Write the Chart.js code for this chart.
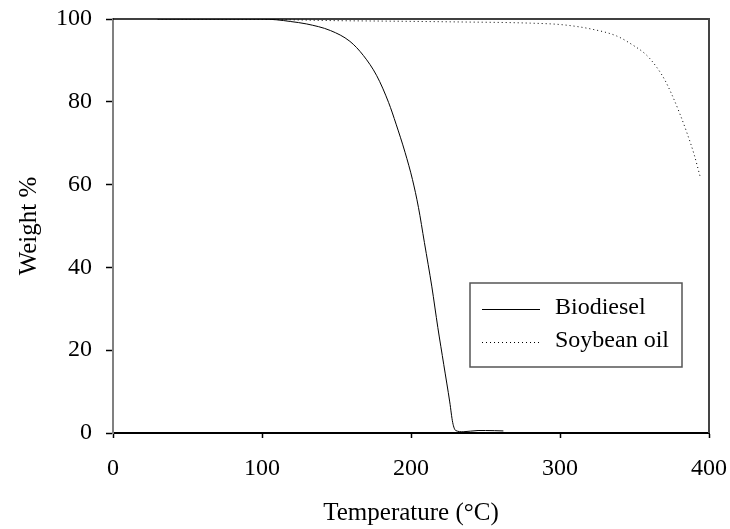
<!DOCTYPE html>
<html>
<head>
<meta charset="utf-8">
<script src="https://cdn.jsdelivr.net/npm/chart.js"></script>
<style>
  body { margin: 0; background: #fff; }
  #wrap { width: 730px; height: 529px; position: relative; }
</style>
</head>
<body>
<div id="wrap"><canvas id="tga"></canvas></div>
<script>
// TGA curves: temperature (°C) vs remaining weight (%)
const biodieselTemp = [30, 100, 110, 119, 130, 146, 159, 168, 177, 185, 190, 196, 201, 205, 209, 214, 218, 222, 226, 228, 230, 235, 245, 250, 262];
const biodieselWeight = [100, 100, 99.8, 99.4, 98.8, 97.2, 94.6, 91.2, 86.3, 79.8, 74.6, 67.8, 61.2, 54.5, 46, 35.3, 25.5, 16.5, 7.5, 2.5, 0.6, 0.3, 0.6, 0.6, 0.5];

const soyTemp = [30, 100, 150, 180, 230, 280, 302, 322, 338, 348, 358, 365, 370, 375, 380, 385, 390, 394];
const soyWeight = [100, 99.9, 99.6, 99.5, 99.3, 99, 98.6, 97.5, 95.9, 93.9, 91.3, 88.3, 85.5, 81.8, 77.5, 72.7, 67.3, 62];

const xTicks = [0, 100, 200, 300, 400];
const yTicks = [0, 20, 40, 60, 80, 100];

const serif = "'Liberation Serif', 'Times New Roman', serif";

function toPoints(xs, ys) {
  return xs.map((x, i) => ({ x: x, y: ys[i] }));
}

// top and right edges of the plot box
const frame = {
  id: "frame",
  afterDraw(chart) {
    const { ctx, chartArea: a } = chart;
    ctx.save();
    ctx.strokeStyle = "#000";
    ctx.lineWidth = 1.5;
    ctx.beginPath();
    ctx.moveTo(a.left, a.top);
    ctx.lineTo(a.right, a.top);
    ctx.stroke();
    ctx.strokeStyle = "#444";
    ctx.lineWidth = 2;
    ctx.beginPath();
    ctx.moveTo(a.right, a.top - 1);
    ctx.lineTo(a.right, a.bottom);
    ctx.stroke();
    ctx.restore();
  }
};

// boxed legend inside the plot
const boxLegend = {
  id: "boxLegend",
  afterDraw(chart) {
    const { ctx } = chart;
    const left = 470, top = 283, w = 212, h = 84;
    ctx.save();
    ctx.strokeStyle = "#555";
    ctx.lineWidth = 1.5;
    ctx.strokeRect(left, top, w, h);
    ctx.font = "24px " + serif;
    ctx.fillStyle = "#000";
    ctx.textBaseline = "middle";
    chart.data.datasets.forEach((ds, i) => {
      const y = 309 + i * 33;
      ctx.strokeStyle = ds.borderColor;
      ctx.lineWidth = ds.borderWidth;
      ctx.setLineDash(ds.borderDash || []);
      ctx.beginPath();
      ctx.moveTo(482, y + 0.5);
      ctx.lineTo(540, y + 0.5);
      ctx.stroke();
      ctx.setLineDash([]);
      ctx.fillText(ds.label, 555, y - 1);
    });
    ctx.restore();
  }
};

new Chart(document.getElementById("tga"), {
  type: "line",
  data: {
    datasets: [
      {
        label: "Biodiesel",
        data: toPoints(biodieselTemp, biodieselWeight),
        borderColor: "#000",
        borderWidth: 1,
        pointRadius: 0,
        cubicInterpolationMode: "monotone"
      },
      {
        label: "Soybean oil",
        data: toPoints(soyTemp, soyWeight),
        borderColor: "#000",
        borderWidth: 1,
        borderDash: [1, 3],
        pointRadius: 0,
        cubicInterpolationMode: "monotone"
      }
    ]
  },
  options: {
    responsive: true,
    maintainAspectRatio: false,
    animation: false,
    layout: { padding: { top: 19, right: 21, left: 0, bottom: 0 } },
    plugins: { legend: { display: false }, tooltip: { enabled: false } },
    scales: {
      x: {
        type: "linear",
        min: 0,
        max: 400,
        afterBuildTicks: (s) => { s.ticks = xTicks.map(v => ({ value: v })); },
        afterFit: (s) => { s.height = 96; s.paddingLeft = 0; s.paddingRight = 0; },
        grid: { drawOnChartArea: false, drawTicks: true, tickLength: 5, color: "#000", tickWidth: 1.5 },
        border: { color: "#000", width: 2 },
        ticks: { color: "#000", font: { family: serif, size: 24 }, padding: 16, maxRotation: 0 },
        title: { display: true, text: "Temperature (°C)", color: "#000", font: { family: serif, size: 25 }, padding: { top: 0, bottom: 1 } }
      },
      y: {
        min: 0,
        max: 100,
        afterBuildTicks: (s) => { s.ticks = yTicks.map(v => ({ value: v })); },
        afterFit: (s) => { s.width = 113; s.paddingTop = 0; s.paddingBottom = 0; },
        grid: { drawOnChartArea: false, drawTicks: true, tickLength: 7, color: "#000", tickWidth: 1.5 },
        border: { color: "#808080", width: 2 },
        ticks: { color: "#000", font: { family: serif, size: 24 }, padding: 14 },
        title: { display: true, text: "Weight %", color: "#000", font: { family: serif, size: 25 }, padding: { top: 14, bottom: 0 } }
      }
    }
  },
  plugins: [frame, boxLegend]
});
</script>
</body>
</html>
